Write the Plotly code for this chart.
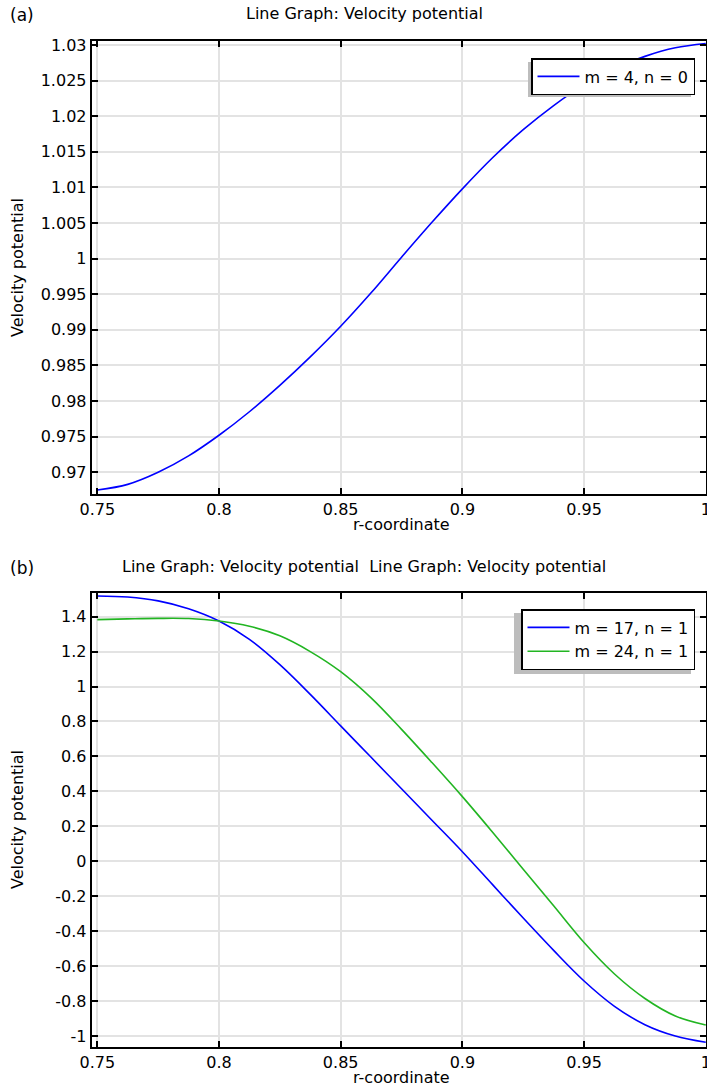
import plotly.graph_objects as go

# figure fills the whole 707x1088 page (body margin removed in post_script)
OFF = 0
W, H = 707 - OFF, 1088 - OFF

# ---------------- data ----------------
r_a = [0.75, 0.7625, 0.775, 0.7875, 0.8, 0.8125, 0.825, 0.8375, 0.85, 0.8625, 0.875,
       0.8875, 0.9, 0.9125, 0.925, 0.9375, 0.95, 0.9625, 0.975, 0.9875, 1.0]
phi_m4_n0 = [0.9675, 0.9683, 0.9700, 0.9723, 0.9752, 0.9785, 0.9822, 0.9862, 0.9905, 0.9952,
             1.0002, 1.0051, 1.0098, 1.0142, 1.0181, 1.0215, 1.0244, 1.0267, 1.0284, 1.0296, 1.0302]

r_b = [0.75, 0.7625, 0.775, 0.7875, 0.8, 0.8125, 0.825, 0.8375, 0.85, 0.8625, 0.875,
       0.8875, 0.9, 0.9125, 0.925, 0.9375, 0.95, 0.9625, 0.975, 0.9875, 1.0]
phi_m17_n1 = [1.518, 1.512, 1.490, 1.445, 1.375, 1.27, 1.125, 0.955, 0.775, 0.595, 0.415,
              0.235, 0.055, -0.135, -0.325, -0.51, -0.685, -0.83, -0.935, -1.0, -1.036]
phi_m24_n1 = [1.383, 1.387, 1.390, 1.389, 1.375, 1.345, 1.29, 1.2, 1.085, 0.935, 0.755,
              0.565, 0.37, 0.165, -0.045, -0.255, -0.465, -0.645, -0.785, -0.885, -0.937]

x_ticks = [0.75, 0.8, 0.85, 0.9, 0.95, 1.0]
x_ticktext = ["0.75", "0.8", "0.85", "0.9", "0.95", "1"]
ya_ticks = [0.97, 0.975, 0.98, 0.985, 0.99, 0.995, 1.0, 1.005, 1.01, 1.015, 1.02, 1.025, 1.03]
ya_ticktext = ["0.97", "0.975", "0.98", "0.985", "0.99", "0.995", "1", "1.005", "1.01",
               "1.015", "1.02", "1.025", "1.03"]
yb_ticks = [-1.0, -0.8, -0.6, -0.4, -0.2, 0.0, 0.2, 0.4, 0.6, 0.8, 1.0, 1.2, 1.4]
yb_ticktext = ["-1", "-0.8", "-0.6", "-0.4", "-0.2", "0", "0.2", "0.4", "0.6", "0.8", "1",
               "1.2", "1.4"]

title_text = "Line Graph: Velocity potential"
x_title = "r-coordinate"
y_title = "Velocity potential"

# ---------------- helpers (page pixel -> paper fraction) ----------------
def fx(p):
    return (p - OFF) / W

def fy(p):
    return 1 - (p - OFF) / H

FONT = "DejaVu Sans"
BLUE = "#0000ff"
GREEN = "#22b522"

fig = go.Figure()
fig.add_trace(go.Scatter(x=r_a, y=phi_m4_n0, mode="lines", line=dict(color=BLUE, width=1.6, shape="spline"),
                         name="m = 4, n = 0", xaxis="x", yaxis="y", legend="legend"))
fig.add_trace(go.Scatter(x=r_b, y=phi_m17_n1, mode="lines", line=dict(color=BLUE, width=1.6, shape="spline"),
                         name="m = 17, n = 1", xaxis="x2", yaxis="y2", legend="legend2"))
fig.add_trace(go.Scatter(x=r_b, y=phi_m24_n1, mode="lines", line=dict(color=GREEN, width=1.6, shape="spline"),
                         name="m = 24, n = 1", xaxis="x2", yaxis="y2", legend="legend2"))

axis_common = dict(showline=True, linecolor="black", linewidth=2, mirror="ticks",
                   ticks="inside", ticklen=6, tickwidth=1.5, tickcolor="black",
                   showgrid=True, gridcolor="#e3e3e3", gridwidth=1.5, zeroline=False,
                   automargin=False, ticklabeloverflow="allow",
                   tickfont=dict(family=FONT, size=16, color="black"))

xa_dom = [fx(91.7), fx(706)]
legend_common = dict(xanchor="right", yanchor="top", bgcolor="white", bordercolor="black",
                     borderwidth=1.5, itemwidth=42, font=dict(family=FONT, size=16))
fig.update_layout(
    width=W, height=H,
    margin=dict(l=0, r=0, t=0, b=0, autoexpand=False),
    paper_bgcolor="white", plot_bgcolor="white",
    font=dict(family=FONT, size=16, color="black"),
    hovermode=False,
    xaxis=dict(domain=xa_dom, range=[0.7477, 1.0001], tickvals=x_ticks, ticktext=x_ticktext,
               anchor="y", **axis_common),
    yaxis=dict(domain=[fy(494), fy(41)], range=[0.96695, 1.03056], tickvals=ya_ticks,
               ticktext=ya_ticktext, anchor="x", **axis_common),
    xaxis2=dict(domain=xa_dom, range=[0.7477, 1.0001], tickvals=x_ticks, ticktext=x_ticktext,
                anchor="y2", **axis_common),
    yaxis2=dict(domain=[fy(1046.7), fy(592.7)], range=[-1.061, 1.537], tickvals=yb_ticks,
                ticktext=yb_ticktext, anchor="x2", **axis_common),
    legend=dict(x=fx(695), y=fy(58), **legend_common),
    legend2=dict(x=fx(695), y=fy(609), **legend_common),
    showlegend=True,
)

# legend drop shadows (offset 4px left / 4px down from the legend boxes)
fig.add_shape(type="rect", xref="paper", yref="paper", x0=fx(528), x1=fx(691), y0=fy(97), y1=fy(62),
              fillcolor="#bdbdbd", line=dict(width=0), layer="above")
fig.add_shape(type="rect", xref="paper", yref="paper", x0=fx(514), x1=fx(691), y0=fy(674), y1=fy(613),
              fillcolor="#bdbdbd", line=dict(width=0), layer="above")

ann = []
def txt(x, y, s, size=16, angle=0, xanchor="center"):
    ann.append(dict(x=fx(x), y=fy(y), xref="paper", yref="paper", text=s, showarrow=False,
                    font=dict(family=FONT, size=size, color="black"), textangle=angle,
                    xanchor=xanchor, yanchor="middle"))

txt(8, 15, "(a)", size=17, xanchor="left")
txt(364, 14, title_text)
txt(401, 524, x_title)
txt(17, 268, y_title, angle=-90)

txt(8, 568, "(b)", size=17, xanchor="left")
txt(364, 566, title_text + "  " + title_text)
txt(401, 1077, x_title)
txt(17, 820, y_title, angle=-90)

fig.update_layout(annotations=ann)

fig.write_html("out.html",
               config={"displayModeBar": False, "staticPlot": False},
               post_script="document.body.style.margin='0';document.body.style.overflow='hidden';")
